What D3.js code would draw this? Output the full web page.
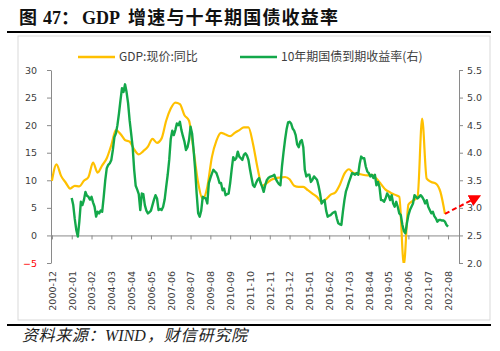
<!DOCTYPE html>
<html>
<head>
<meta charset="utf-8">
<script src="https://cdn.jsdelivr.net/npm/d3@7"></script>
<style>
    body { margin: 0; background: #fff; }
    svg { display: block; }
    .tick text { font-family: "DejaVu Sans", sans-serif; font-size: 9.5px; fill: #404040; }
</style>
</head>
<body>
<div id="div-chart"></div>
<script>
"use strict";

// x axis labels (one every 13 months)
const xTickLabels = ["2000-12", "2002-01", "2003-02", "2004-03", "2005-04", "2006-05", "2007-06",
    "2008-07", "2009-08", "2010-09", "2011-10", "2012-11", "2013-12", "2015-01", "2016-02", "2017-03",
    "2018-04", "2019-05", "2020-06", "2021-07", "2022-08"];
const leftTicks = [-5, 0, 5, 10, 15, 20, 25, 30];
const rightTicks = [2.0, 2.5, 3.0, 3.5, 4.0, 4.5, 5.0, 5.5];
const seriesNames = ["GDP:现价:同比", "10年期国债到期收益率(右)"];

// GDP nominal yoy, quarterly, first point 2000-12
const gdpStart = "2000-12";
const gdpYoY = [
    9.9, 12.9, 10.8, 9.6, 8.5, 9.0, 8.9, 9.9, 10.6, 13.2, 11.4, 12.7,
    14.0, 16.4, 19.1, 18.4, 17.3, 17.0, 15.6, 14.7, 15.3, 16.1, 17.5, 16.8,
    17.6, 20.8, 23.0, 24.1, 23.8, 21.8, 20.8, 15.4, 9.5, 6.6, 8.8, 14.2,
    17.2, 18.6, 18.3, 18.0, 18.6, 19.1, 19.6, 19.6, 16.6, 12.2, 9.0, 9.5,
    10.1, 10.4, 10.5, 10.6, 10.2, 9.0, 8.8, 8.8, 8.2, 7.6, 7.0, 6.1,
    6.6, 7.4, 7.8, 9.2, 11.2, 12.0, 11.3, 11.2, 11.0, 10.9, 11.0, 10.3,
    9.3, 8.3, 7.8, 7.4, 7.0, -5.3, 5.6, 6.3, 7.0, 21.2, 10.3, 9.7,
    9.4, 7.9, 3.9
];

// 10y government bond yield (%), monthly, first point 2002-01
const yieldStart = "2002-01";
const yield10y = [
    3.18, 3.05, 2.80, 2.60, 2.48, 2.75, 3.11, 3.05, 3.14, 3.29, 3.22, 3.20,
    3.15, 3.20, 3.10, 3.02, 2.84, 2.93, 2.90, 2.95, 2.93, 3.20, 3.50, 3.72,
    3.78, 3.81, 3.87, 4.05, 4.28, 4.35, 4.50, 4.71, 4.95, 5.17, 5.10, 5.24,
    5.10, 4.90, 4.59, 4.35, 4.10, 3.69, 3.40, 3.33, 3.25, 2.96, 3.26, 3.25,
    3.05, 2.95, 2.90, 2.92, 2.95, 3.05, 3.15, 3.23, 3.17, 2.96, 2.98, 2.96,
    3.02, 3.15, 3.38, 3.60, 3.87, 4.25, 4.40, 4.32, 4.41, 4.53, 4.50, 4.56,
    4.41, 4.30, 4.20, 4.05, 4.10, 4.23, 4.47, 4.35, 4.05, 3.70, 3.26, 2.90,
    2.84, 2.95, 3.20, 3.18, 3.17, 3.08, 3.45, 3.54, 3.62, 3.69, 3.66, 3.63,
    3.55, 3.45, 3.45, 3.32, 3.35, 3.23, 3.25, 3.26, 3.45, 3.70, 3.92, 3.87,
    3.90, 4.02, 3.93, 3.90, 3.87, 3.96, 3.99, 3.95, 3.87, 3.70, 3.55, 3.41,
    3.38, 3.45, 3.51, 3.54, 3.45, 3.38, 3.29, 3.41, 3.50, 3.54, 3.56, 3.57,
    3.58, 3.60, 3.52, 3.47, 3.43, 3.41, 3.75, 4.00, 4.23, 4.42, 4.55, 4.56,
    4.53, 4.44, 4.40, 4.32, 4.15, 4.10, 4.20, 4.23, 4.10, 3.69, 3.57, 3.60,
    3.60, 3.47, 3.51, 3.57, 3.54, 3.51, 3.40, 3.26, 3.08, 3.12, 3.14, 2.95,
    2.84, 2.86, 2.87, 2.90, 2.92, 2.93, 2.81, 2.72, 2.70, 2.69, 2.93, 3.14,
    3.30, 3.38, 3.47, 3.55, 3.63, 3.62, 3.60, 3.63, 3.60, 3.80, 3.93, 3.90,
    3.90, 3.75, 3.66, 3.63, 3.57, 3.60, 3.54, 3.60, 3.41, 3.47, 3.38, 3.14,
    3.14, 3.11, 3.17, 3.26, 3.22, 3.14, 3.23, 3.08, 3.02, 3.11, 3.02, 2.90,
    2.87, 2.70, 2.58, 2.54, 2.72, 2.87, 2.96, 3.02, 3.08, 3.23, 3.20, 3.17,
    3.20, 3.23, 3.20, 3.15, 3.08, 3.14, 3.02, 2.96, 2.90, 2.93, 2.85, 2.81,
    2.75, 2.78, 2.78, 2.77, 2.77, 2.75, 2.69, 2.66
];

// red dashed arrow: from the last GDP point to the right (yield units)
const arrowFrom = {month: "2022-06", gdp: 3.9};
const arrowTo = {month: "2024-05", yld: 3.22};

/**
 * @class
 */
class GdpYieldChart {

    constructor() {
        this.width = 500;
        this.height = 351;
        this.svg = d3.select("#div-chart")
            .append("svg")
            .attr("width", this.width)
            .attr("height", this.height);
    }

    /**
     * month "YYYY-MM" -> category index, 2000-12 is 0
     * @param m {string}
     */
    static monthIndex(m) {
        const [y, mo] = m.split("-").map(Number);
        return (y - 2000) * 12 + mo - 12;
    }

    show() {
        const svg = this.svg;
        const mi = GdpYieldChart.monthIndex;
        const axisColor = "#8a8a8a";
        const yellow = "#ffc000", green = "#13a84a";

        // frame, title, footer
        svg.append("rect")
            .attr("x", 18).attr("y", 36)
            .attr("width", 472).attr("height", 284)
            .attr("fill", "none").attr("stroke", "#d9d9d9");
        svg.append("line").attr("x1", 7).attr("x2", 491).attr("y1", 32).attr("y2", 32)
            .attr("stroke", "#000").attr("stroke-width", 2);
        svg.append("line").attr("x1", 7).attr("x2", 491).attr("y1", 325).attr("y2", 325)
            .attr("stroke", "#000").attr("stroke-width", 2);

        const title = svg.append("text")
            .attr("y", 24)
            .attr("font-family", "'Liberation Serif', 'Noto Sans CJK SC', serif")
            .attr("font-weight", "bold")
            .attr("font-size", 18)
            .attr("fill", "#111");
        title.append("tspan").attr("x", 19).text("图");
        title.append("tspan").attr("x", 43).text("47：");
        title.append("tspan").attr("x", 82).text("GDP");
        title.append("tspan").attr("x", 128).attr("letter-spacing", 1.2).text("增速与十年期国债收益率");

        const foot = svg.append("text")
            .attr("y", 341)
            .attr("font-family", "'Liberation Serif', 'Noto Sans CJK SC', serif")
            .attr("font-style", "italic")
            .attr("font-size", 16)
            .attr("fill", "#222");
        foot.append("tspan").attr("x", 22).attr("letter-spacing", 0.6).text("资料来源：");
        foot.append("tspan").attr("x", 105).text("WIND");
        foot.append("tspan").attr("x", 147).attr("letter-spacing", 0.8).text("，财信研究院");

        // scales
        const xScale = d3.scaleLinear().domain([-0.6, 267.2]).range([51, 459]);
        const yLeft = d3.scaleLinear().domain([-5, 30]).range([263, 70]);
        const yRight = d3.scaleLinear().domain([2, 5.5]).range([263, 70]);
        const [x0, x1] = xScale.range();
        const labelIdx = xTickLabels.map(mi);

        // left axis
        const gL = svg.append("g")
            .attr("transform", `translate(${x0},0)`)
            .call(d3.axisLeft(yLeft).tickValues(leftTicks).tickSize(4).tickSizeOuter(0).tickPadding(10));
        gL.selectAll(".tick text").style("fill", d => d < 0 ? "#ff0000" : "#404040");

        // right axis
        const gR = svg.append("g")
            .attr("transform", `translate(${x1},0)`)
            .call(d3.axisRight(yRight).tickValues(rightTicks).tickSize(4).tickSizeOuter(0).tickPadding(4)
                .tickFormat(d3.format(".1f")));

        // zero line with small ticks
        const gZ = svg.append("g")
            .attr("transform", `translate(0,${yLeft(0)})`)
            .call(d3.axisBottom(xScale).tickValues(labelIdx).tickFormat("").tickSize(4).tickSizeOuter(0));

        // month labels at the bottom
        const gX = svg.append("g")
            .attr("transform", `translate(0,${yLeft(-5) + 8})`)
            .call(d3.axisBottom(xScale).tickValues(labelIdx).tickSize(0)
                .tickFormat((d, i) => xTickLabels[i]));
        gX.select(".domain").remove();
        gX.selectAll(".tick text")
            .attr("x", 0).attr("y", 0).attr("dy", "0.35em")
            .attr("transform", "rotate(-90)")
            .style("text-anchor", "end");

        [gL, gR, gZ].forEach(g => {
            g.select(".domain").attr("stroke", axisColor);
            g.selectAll(".tick line").attr("stroke", axisColor);
        });

        // series
        svg.append("clipPath").attr("id", "plot-clip")
            .append("rect").attr("x", x0).attr("y", 70).attr("width", x1 - x0).attr("height", 193);

        const gdpData = gdpYoY.map((v, k) => ({i: mi(gdpStart) + 3 * k, v: v}));
        const yieldData = yield10y.map((v, k) => ({i: mi(yieldStart) + k, v: v}));

        const plot = svg.append("g").attr("clip-path", "url(#plot-clip)");
        plot.append("path")
            .datum(gdpData)
            .attr("fill", "none")
            .attr("stroke", yellow)
            .attr("stroke-width", 2.2)
            .attr("stroke-linejoin", "round")
            .attr("d", d3.line().curve(d3.curveMonotoneX).x(d => xScale(d.i)).y(d => yLeft(d.v)));
        plot.append("path")
            .datum(yieldData)
            .attr("fill", "none")
            .attr("stroke", green)
            .attr("stroke-width", 2.4)
            .attr("stroke-linejoin", "round")
            .attr("d", d3.line().x(d => xScale(d.i)).y(d => yRight(d.v)));

        // arrow
        svg.append("defs").append("marker")
            .attr("id", "arrow-head")
            .attr("viewBox", "0 0 10 10")
            .attr("refX", 9).attr("refY", 5)
            .attr("markerWidth", 6).attr("markerHeight", 6)
            .attr("orient", "auto")
            .append("path").attr("d", "M0,0L10,5L0,10z").attr("fill", "#ff0000");
        svg.append("line")
            .attr("x1", xScale(mi(arrowFrom.month))).attr("y1", yLeft(arrowFrom.gdp))
            .attr("x2", xScale(mi(arrowTo.month))).attr("y2", yRight(arrowTo.yld))
            .attr("stroke", "#ff0000")
            .attr("stroke-width", 2)
            .attr("stroke-dasharray", "5,3")
            .attr("marker-end", "url(#arrow-head)");

        // legend
        const legend = svg.append("g")
            .attr("font-family", "'Noto Sans CJK SC', sans-serif")
            .attr("font-size", 12)
            .attr("fill", "#404040");
        const legendX = [78, 240];
        [yellow, green].forEach((c, k) => {
            legend.append("line")
                .attr("x1", legendX[k]).attr("x2", legendX[k] + 37)
                .attr("y1", 57).attr("y2", 57)
                .attr("stroke", c).attr("stroke-width", 2.4);
            legend.append("text")
                .attr("x", legendX[k] + 41).attr("y", 57).attr("dy", "0.35em")
                .text(seriesNames[k]);
        });
    }
}

new GdpYieldChart().show();
</script>
</body>
</html>
